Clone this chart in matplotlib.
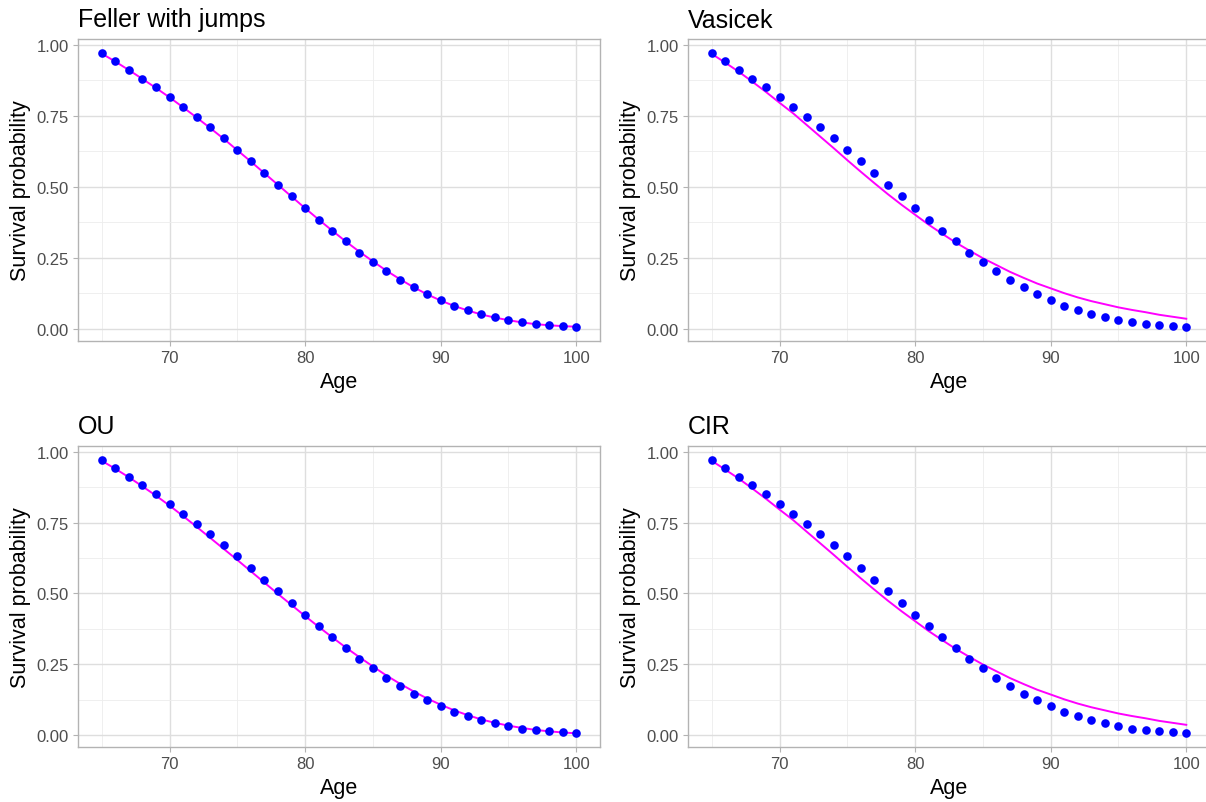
import numpy as np
import matplotlib
matplotlib.use("Agg")
import matplotlib.pyplot as plt
from matplotlib.ticker import MultipleLocator

plt.rcParams['font.family'] = ['Liberation Sans', 'DejaVu Sans']

# observed survival probabilities (points), ages 65..100
age = np.arange(65, 101)
observed = [0.972, 0.943, 0.912, 0.881, 0.850, 0.817, 0.782, 0.746, 0.710, 0.671,
            0.631, 0.590, 0.549, 0.508, 0.467, 0.425, 0.385, 0.345, 0.308, 0.269,
            0.237, 0.203, 0.173, 0.146, 0.122, 0.101, 0.082, 0.067, 0.052, 0.041,
            0.032, 0.023, 0.018, 0.013, 0.009, 0.006]

# fitted curves
feller = [0.969, 0.941, 0.911, 0.880, 0.848, 0.815, 0.780, 0.744, 0.707, 0.669,
          0.629, 0.589, 0.548, 0.507, 0.466, 0.425, 0.385, 0.346, 0.308, 0.272,
          0.238, 0.205, 0.175, 0.147, 0.122, 0.100, 0.081, 0.065, 0.051, 0.040,
          0.031, 0.023, 0.017, 0.013, 0.010, 0.008]
vasicek = [0.968, 0.937, 0.905, 0.870, 0.834, 0.796, 0.759, 0.718, 0.677, 0.636,
           0.594, 0.553, 0.513, 0.474, 0.437, 0.402, 0.367, 0.335, 0.304, 0.276,
           0.249, 0.225, 0.201, 0.180, 0.160, 0.143, 0.126, 0.111, 0.098, 0.087,
           0.076, 0.067, 0.059, 0.050, 0.043, 0.036]
ou = [0.968, 0.940, 0.910, 0.878, 0.845, 0.810, 0.773, 0.735, 0.696, 0.657,
      0.618, 0.578, 0.538, 0.498, 0.459, 0.420, 0.382, 0.345, 0.309, 0.275,
      0.242, 0.210, 0.181, 0.154, 0.129, 0.107, 0.087, 0.070, 0.055, 0.043,
      0.033, 0.025, 0.018, 0.013, 0.009, 0.006]
cir = [0.968, 0.937, 0.905, 0.870, 0.834, 0.796, 0.759, 0.718, 0.677, 0.636,
       0.594, 0.553, 0.513, 0.474, 0.437, 0.402, 0.367, 0.335, 0.304, 0.276,
       0.249, 0.225, 0.201, 0.180, 0.160, 0.143, 0.126, 0.111, 0.098, 0.087,
       0.076, 0.067, 0.059, 0.050, 0.043, 0.036]

titles = ["Feller with jumps", "Vasicek", "OU", "CIR"]
fits = [feller, vasicek, ou, cir]

W, H = 1206, 803
fig = plt.figure(figsize=(W / 100, H / 100), dpi=100)

# panel boxes in pixels: left, top, right, bottom
boxes = [(78, 40, 600, 342), (688, 40, 1210, 342),
         (78, 447, 600, 748), (688, 447, 1210, 748)]

grid_c = '#DEDEDE'
border_c = '#B3B3B3'

for (l, t, r, b), title, fit in zip(boxes, titles, fits):
    ax = fig.add_axes([l / W, (H - b) / H, (r - l) / W, (b - t) / H])
    ax.plot(age, fit, color='#FF00FF', lw=1.4, zorder=2)
    ax.plot(age, observed, 'o', color='#0000FF', ms=6.2, mec='none', zorder=3)

    # ggplot-like 5% expansion
    ally = np.concatenate([observed, fit])
    ylo, yhi = ally.min(), ally.max()
    ax.set_ylim(ylo - 0.05 * (yhi - ylo), yhi + 0.05 * (yhi - ylo))
    ax.set_xlim(65 - 0.05 * 35, 100 + 0.05 * 35)

    ax.set_xticks([70, 80, 90, 100])
    ax.set_yticks([0, 0.25, 0.5, 0.75, 1.0])
    ax.set_yticklabels(['0.00', '0.25', '0.50', '0.75', '1.00'])
    ax.xaxis.set_minor_locator(MultipleLocator(5))
    ax.yaxis.set_minor_locator(MultipleLocator(0.125))
    ax.grid(which='major', color=grid_c, lw=1.0, zorder=0)
    ax.grid(which='minor', color='#EDEDED', lw=0.6, zorder=0)
    ax.set_axisbelow(True)
    ax.tick_params(which='major', length=3.5, width=0.8, color=border_c,
                   labelsize=12, labelcolor='#4D4D4D', pad=3)
    ax.tick_params(which='minor', length=0)
    for s in ax.spines.values():
        s.set_color(border_c)
        s.set_linewidth(1.0)

    ax.set_xlabel('Age', fontsize=15.5, labelpad=4)
    ax.set_ylabel('Survival probability', fontsize=15.5, labelpad=4)
    ax.set_title(title, fontsize=18, loc='left', pad=9)

fig.savefig('out.png', dpi=100)
